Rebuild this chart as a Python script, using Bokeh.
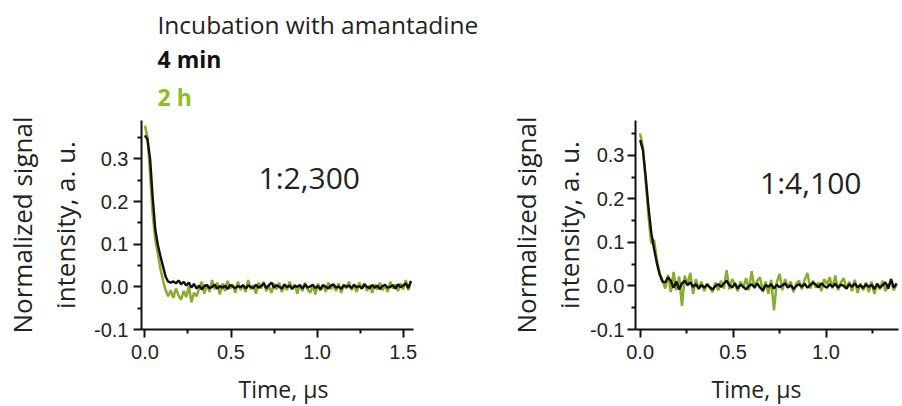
import numpy as np
from bokeh.plotting import figure
from bokeh.layouts import column, row
from bokeh.models import Label, FixedTicker, PrintfTickFormatter, Range1d, ColumnDataSource
from bokeh.embed import file_html
from bokeh.resources import INLINE

# ---------------- data ----------------
DT = 0.015  # sampling step of the traces, microseconds

left_4min = [0.355, 0.345, 0.300, 0.210, 0.135, 0.098, 0.072, 0.048, 0.024, 0.012,
             0.010, 0.013, 0.008, 0.015, 0.006, 0.012, 0.003, 0.010, -0.002, 0.007,
             -0.004, 0.003, -0.006, 0.002, 0.004, -0.003, 0.000, 0.005, -0.004, 0.002,
             -0.002, 0.003, -0.005, 0.004, 0.001, -0.003, 0.002, -0.001, 0.004, -0.004,
             0.003, 0.000, -0.003, 0.005, -0.002, 0.002, 0.008, -0.003, 0.004, 0.010,
             -0.002, 0.004, 0.000, -0.004, 0.006, -0.001, 0.003, -0.005, 0.002, 0.000,
             0.004, -0.004, 0.006, -0.002, 0.001, 0.005, -0.003, 0.002, -0.006, 0.004,
             0.000, -0.004, 0.003, 0.006, -0.002, 0.001, -0.005, 0.004, 0.000, 0.003,
             -0.003, 0.005, -0.001, 0.002, -0.004, 0.006, 0.000, -0.003, 0.004, -0.002,
             0.003, -0.005, 0.002, 0.005, -0.002, 0.000, 0.004, -0.004, 0.006, -0.001,
             0.003, 0.008, -0.003, 0.014]

left_2h = [0.378, 0.350, 0.265, 0.170, 0.110, 0.078, 0.042, 0.015, -0.008, -0.022,
           -0.008, -0.026, -0.004, -0.020, -0.030, -0.010, -0.024, 0.002, -0.036, -0.014,
           -0.022, -0.004, 0.012, -0.016, 0.006, -0.012, 0.016, -0.006, 0.010, -0.018,
           0.008, -0.010, 0.014, -0.004, 0.006, -0.014, 0.012, -0.008, 0.004, -0.012,
           0.016, -0.006, 0.004, -0.016, 0.010, -0.004, 0.012, -0.010, 0.002, -0.014,
           0.008, -0.006, 0.010, -0.012, 0.004, -0.008, 0.012, -0.004, 0.006, -0.016,
           0.006, -0.010, 0.010, -0.006, -0.014, 0.004, -0.018, 0.008, -0.008, 0.006,
           -0.012, 0.010, -0.006, 0.004, -0.010, 0.008, -0.014, 0.006, -0.004, 0.012,
           -0.008, 0.004, -0.012, 0.010, -0.004, 0.008, -0.010, 0.004, -0.014, 0.006,
           -0.006, 0.010, -0.008, 0.004, -0.012, 0.012, -0.004, 0.006, -0.010, 0.008,
           -0.006, 0.016, -0.008, 0.012]

right_4min = [0.335, 0.312, 0.250, 0.180, 0.122, 0.085, 0.052, 0.026, 0.010, 0.008,
              0.020, 0.012, -0.004, 0.010, -0.008, 0.006, 0.012, 0.002, 0.008, -0.002,
              0.004, -0.006, 0.002, -0.004, 0.003, -0.003, -0.008, 0.000, 0.004, -0.002,
              0.005, 0.012, 0.002, -0.004, 0.006, -0.006, 0.003, -0.002, -0.008, 0.000,
              0.004, -0.003, 0.006, -0.004, -0.010, 0.002, -0.002, 0.004, -0.006, 0.003,
              -0.003, 0.001, 0.006, -0.004, 0.002, -0.007, 0.000, 0.004, -0.002, 0.005,
              -0.004, 0.002, 0.008, 0.003, -0.003, 0.006, 0.000, -0.004, 0.004, -0.002,
              0.005, -0.004, 0.003, 0.000, -0.006, 0.004, -0.002, 0.006, -0.003, 0.002,
              -0.005, 0.004, -0.002, 0.003, -0.007, 0.005, -0.004, 0.002, 0.008, -0.006,
              0.016, -0.004, 0.006]

right_2h = [0.350, 0.318, 0.240, 0.160, 0.098, 0.106, 0.060, 0.030, 0.014, -0.006,
            0.026, -0.014, 0.032, -0.010, 0.022, -0.046, 0.024, 0.004, 0.030, -0.018,
            0.016, -0.008, 0.010, -0.012, 0.006, -0.004, -0.014, 0.008, -0.010, 0.012,
            -0.006, 0.036, -0.008, 0.016, 0.004, -0.012, 0.010, -0.004, 0.018, -0.010,
            0.034, -0.006, 0.012, 0.020, -0.014, 0.010, -0.018, 0.014, -0.056, 0.008,
            0.028, -0.010, 0.016, -0.004, 0.010, -0.014, 0.006, 0.012, -0.008, 0.014,
            0.030, -0.006, 0.012, -0.004, 0.008, -0.012, 0.016, 0.004, 0.020, -0.006,
            0.024, -0.010, 0.008, 0.018, -0.006, 0.010, -0.012, 0.014, -0.016, 0.006,
            -0.010, 0.008, -0.014, 0.010, -0.018, 0.004, -0.008, 0.012, -0.012, 0.002,
            0.008, -0.010, 0.004]

y_ticks = [-0.1, 0.0, 0.1, 0.2, 0.3]
y_minor = [-0.05, 0.05, 0.15, 0.25, 0.35]
left_x_ticks = [0.0, 0.5, 1.0, 1.5]
right_x_ticks = [0.0, 0.5, 1.0]
x_minor = [0.25, 0.75, 1.25]

legend_title = "Incubation with amantadine"
series_names = ["4 min", "2 h"]
ratios = ["1:2,300", "1:4,100"]
y_label = "Normalized signal\nintensity, a. u."
x_label = "Time, \u00b5s"

BLACK = "#111111"
GREEN_LINE = "#88AC2C"
GREEN_TEXT = "#8CBF22"
TEXT = "#222222"


def make_panel(width, height, borders, xr, yr, xticks, black, green, ratio, ratio_pos,
               ylab_standoff, ytick_standoff):
    p = figure(width=width, height=height, x_range=Range1d(*xr), y_range=Range1d(*yr),
               title=None, toolbar_location=None, output_backend="svg",
               min_border_left=borders[0], min_border_right=borders[1],
               min_border_top=borders[2], min_border_bottom=borders[3])
    p.outline_line_color = None
    p.grid.visible = False
    p.background_fill_color = "white"
    p.border_fill_color = "white"

    tg = np.arange(len(green)) * DT
    tb = np.arange(len(black)) * DT
    p.line(x="t", y="v", source=ColumnDataSource(dict(t=tg, v=green)),
           line_color=GREEN_LINE, line_width=2.5)
    p.line(x="t", y="v", source=ColumnDataSource(dict(t=tb, v=black)),
           line_color=BLACK, line_width=2.4)

    p.yaxis.ticker = FixedTicker(ticks=y_ticks, minor_ticks=y_minor)
    p.xaxis.ticker = FixedTicker(ticks=xticks, minor_ticks=x_minor)
    for ax in (p.xaxis[0], p.yaxis[0]):
        ax.formatter = PrintfTickFormatter(format="%.1f")
        ax.axis_line_width = 2
        ax.axis_line_color = BLACK
        ax.major_tick_line_width = 2
        ax.minor_tick_line_width = 2
        ax.major_tick_line_color = BLACK
        ax.minor_tick_line_color = BLACK
        ax.major_tick_out = 8
        ax.major_tick_in = 0
        ax.minor_tick_out = 4
        ax.minor_tick_in = 0
        ax.major_label_text_font = "Liberation Sans"
        ax.major_label_text_font_size = "20px"
        ax.major_label_text_color = TEXT
        ax.axis_label_text_font = "Open Sans"
        ax.axis_label_text_font_style = "normal"
        ax.axis_label_text_color = TEXT
    p.yaxis.axis_label = y_label
    p.yaxis.axis_label_text_font_size = "26px"
    p.yaxis.major_label_standoff = ytick_standoff
    p.xaxis.major_label_standoff = 7
    p.yaxis.axis_label_standoff = ylab_standoff

    p.add_layout(Label(x=ratio_pos[0], y=ratio_pos[1], text=ratio,
                       text_font="Open Sans", text_font_size="30px",
                       text_color=TEXT, text_baseline="alphabetic"))
    return p


left = make_panel(452, 254, (138, 39, 2, 40), (-0.02, 1.56), (-0.1, 0.39), left_x_ticks,
                  left_4min, left_2h, ratios[0], (0.66, 0.257), 8, 5)
right = make_panel(450, 254, (183, 4, 0, 43), (-0.025, 1.39), (-0.1, 0.38), right_x_ticks,
                   right_4min, right_2h, ratios[1], (0.645, 0.237), 0, 3)


def text_strip(height):
    s = figure(width=902, height=height, x_range=Range1d(0, 902), y_range=Range1d(0, height),
               title=None, toolbar_location=None, output_backend="svg", min_border=0,
               x_axis_location=None, y_axis_location=None)
    s.outline_line_color = None
    s.grid.visible = False
    return s


# legend block above the panels
top = text_strip(118)
top.add_layout(Label(x=157, y=94.5, text=legend_title, text_font="Open Sans",
                     text_font_size="24.5px", text_color=TEXT, text_baseline="alphabetic"))
top.add_layout(Label(x=157, y=59.5, text=series_names[0], text_font="Open Sans",
                     text_font_size="23px", text_font_style="bold", text_color=BLACK,
                     text_baseline="alphabetic"))
top.add_layout(Label(x=157, y=22, text=series_names[1], text_font="Open Sans",
                     text_font_size="23px", text_font_style="bold", text_color=GREEN_TEXT,
                     text_baseline="alphabetic"))

# x-axis titles below the panels
bottom = text_strip(34)
for cx in (283, 756):
    bottom.add_layout(Label(x=cx, y=17.5, text=x_label, text_font="Open Sans",
                            text_font_size="23px", text_color=TEXT, text_align="center",
                            text_baseline="alphabetic"))

layout = column(top, row(left, right), bottom)
open("out.html", "w").write(file_html(layout, INLINE))
